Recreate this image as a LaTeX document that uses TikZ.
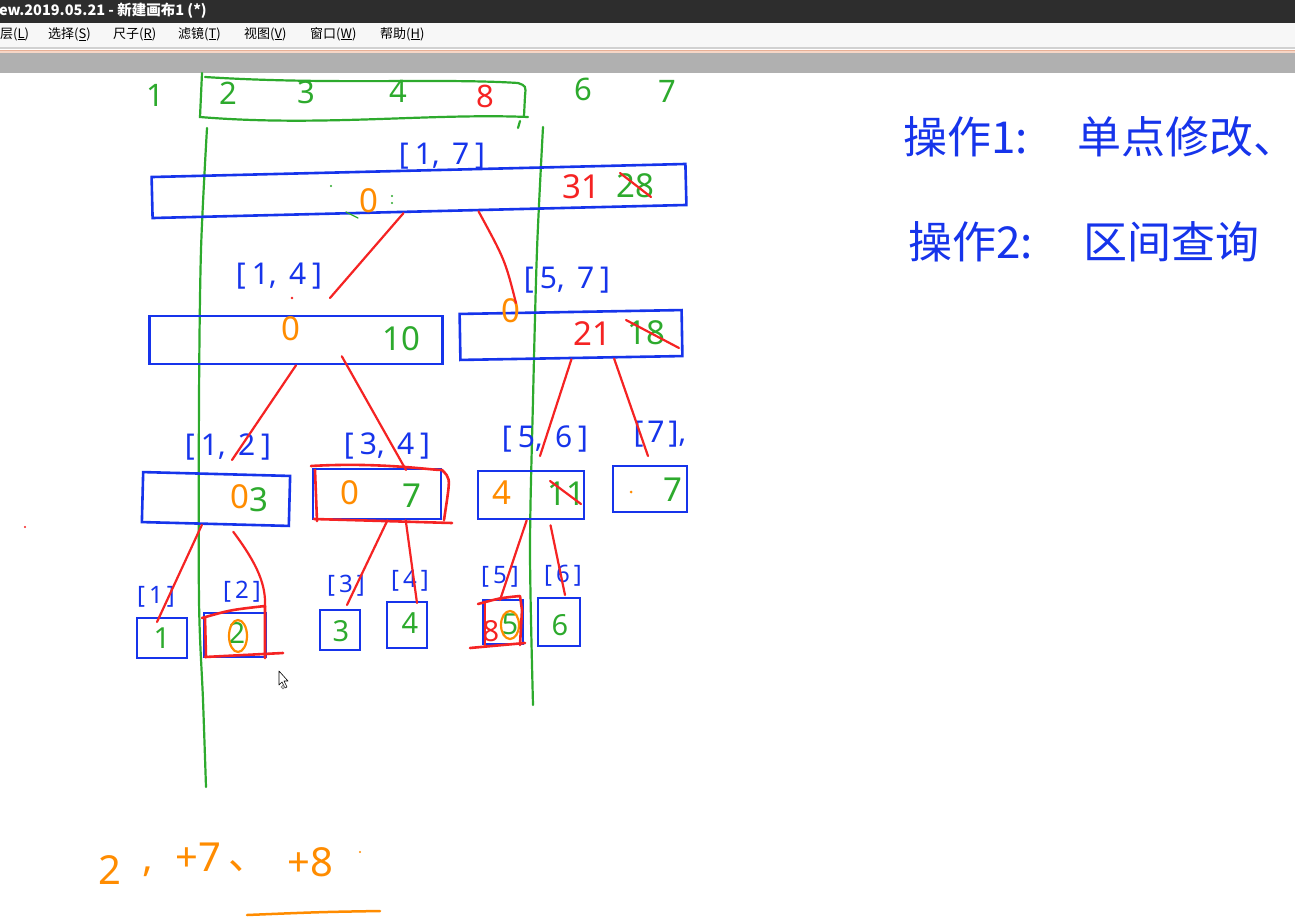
\documentclass[tikz,border=0pt]{standalone}
\usepackage{fontspec}
\setmainfont{Noto Sans}
\newfontfamily\cjk{Noto Sans CJK SC}
\usetikzlibrary{calc}
\definecolor{hblue}{RGB}{22,52,235}
\definecolor{hgreen}{RGB}{45,170,45}
\definecolor{hred}{RGB}{245,35,35}
\definecolor{horange}{RGB}{255,140,0}
\definecolor{titlebg}{RGB}{45,45,45}
\definecolor{menubg}{RGB}{247,247,247}
\definecolor{band}{RGB}{176,176,176}
\definecolor{peach}{RGB}{232,176,150}
\definecolor{peachlt}{RGB}{246,214,198}
\newcommand\iv[2]{[\kern6pt#1,\kern12pt#2\kern6pt]}
\newcommand\lv[1]{[\kern4pt#1\kern4pt]}
\begin{document}
\begin{tikzpicture}[x=1pt,y=-1pt,
  bx/.style={draw=hblue, line width=2.6pt, inner sep=0pt, rectangle},
  rbx/.style={draw=hred, line width=2.6pt, line cap=round, line join=round},
  lab/.style={text=hblue, font=\fontsize{30}{30}\selectfont, inner sep=0pt},
  slab/.style={text=hblue, font=\fontsize{24}{24}\selectfont, inner sep=0pt},
  val/.style={font=\fontsize{33}{33}\selectfont, inner sep=0pt},
  sval/.style={font=\fontsize{29}{29}\selectfont, inner sep=0pt},
  edge/.style={draw=hred, line width=2.2pt, line cap=round},
  grn/.style={draw=hgreen, line width=2.2pt, line cap=round},
  strike/.style={draw=hred, line width=2.2pt, line cap=round},
  menu/.style={anchor=west, inner sep=0pt, text=black, font=\cjk\fontsize{13}{13}\selectfont},
  cjkhw/.style={anchor=west, inner sep=0pt, text=hblue, font=\cjk\fontsize{44}{44}\selectfont},
  orn/.style={text=horange, inner sep=0pt, font=\fontsize{40}{40}\selectfont}]
\useasboundingbox (0,0) rectangle (1295,918);
\fill[white] (0,0) rectangle (1295,918);
% window chrome
\fill[titlebg] (0,0) rectangle (1295,23);
\fill[menubg] (0,23) rectangle (1295,47);
\fill[black!18] (0,47) rectangle (1295,48.5);
\fill[peach] (0,49.5) rectangle (1295,51);
\fill[peachlt] (0,51) rectangle (1295,53);
\fill[band] (0,53) rectangle (1295,73);
\node[anchor=west, inner sep=0pt, text=white, font=\cjk\fontsize{14.5}{14.5}\selectfont\bfseries] (title) at (-1,11) {ew.2019.05.21 - 新建画布1 (*)};
\node[menu] (m1) at (0,34) {层(\underline{L})};
\node[menu] (m2) at (48,34) {选择(\underline{S})};
\node[menu] (m3) at (113,34) {尺子(\underline{R})};
\node[menu] (m4) at (178,34) {滤镜(\underline{T})};
\node[menu] (m5) at (244,34) {视图(\underline{V})};
\node[menu] (m6) at (310,34) {窗口(\underline{W})};
\node[menu] (m7) at (380,34) {帮助(\underline{H})};

% green array on top
\begin{scope}[text=hgreen, font=\fontsize{31}{31}\selectfont, inner sep=0pt]
\node (a1) at (155,95) {1};
\node (a2) at (228,93) {2};
\node (a3) at (306,92) {3};
\node (a4) at (398,91) {4};
\node[text=hred] (a5) at (485,96) {8};
\node (a6) at (583,89) {6};
\node (a7) at (667,91) {7};
\end{scope}
\draw[grn] (202,73) -- (200,117) .. controls (320,127) and (430,113) .. (528,117);
\draw[grn] (205,77) .. controls (330,85) and (440,78) .. (518,83) .. controls (526,86) .. (525,96) -- (524,116);
\draw[grn] (520,121) -- (518,128);
\draw[grn] plot[smooth] coordinates {(207,128) (201,250) (199,400) (199,600) (203,700) (206,787)};
\draw[grn] plot[smooth] coordinates {(543,127) (537,250) (533,400) (530,550) (533,705)};

% boxes
\node[bx, minimum width=534pt, minimum height=41pt, rotate=1.4] (root) at (419,191) {};
\node[bx, minimum width=293pt, minimum height=48pt] (n14) at (296,340) {};
\node[bx, minimum width=222pt, minimum height=46pt, rotate=1] (n57) at (571,335) {};
\node[bx, minimum width=147pt, minimum height=50pt, rotate=-1.5] (n12) at (216,499) {};
\node[bx, minimum width=128pt, minimum height=50pt] (n34) at (377,494) {};
\node[bx, minimum width=106pt, minimum height=48pt] (n56) at (531,495) {};
\node[bx, minimum width=74pt, minimum height=46pt] (n7) at (650,489) {};
\node[bx, minimum width=50pt, minimum height=40pt] (l1) at (162,638) {};
\node[bx, minimum width=62pt, minimum height=44pt] (l2) at (235,635) {};
\node[bx, minimum width=40pt, minimum height=40pt] (l3) at (340,630) {};
\node[bx, minimum width=40pt, minimum height=46pt] (l4) at (407,625) {};
\node[bx, minimum width=40pt, minimum height=44pt] (l5) at (503,622) {};
\node[bx, minimum width=42pt, minimum height=48pt] (l6) at (559,622) {};

% interval labels
\node[lab] (t17) at (442,156) {\iv{1}{7}};
\node[lab] (t14) at (279,276) {\iv{1}{4}};
\node[lab] (t57) at (567,280) {\iv{5}{7}};
\node[lab] (t12) at (228,447) {\iv{1}{2}};
\node[lab] (t34) at (387,446) {\iv{3}{4}};
\node[lab] (t56) at (545,439) {\iv{5}{6}};
\node[lab] (t7) at (660,434) {\lv{7},};
\node[slab] (u1) at (156,597) {\lv{1}};
\node[slab] (u2) at (242,592) {\lv{2}};
\node[slab] (u3) at (346,586) {\lv{3}};
\node[slab] (u4) at (410,581) {\lv{4}};
\node[slab] (u5) at (500,577) {\lv{5}};
\node[slab] (u6) at (563,576) {\lv{6}};

% values
\node[val, text=horange] (v0) at (369,201) {0};
\node[val, text=hred] (v31) at (581,187) {31};
\node[val, text=hgreen] (v28) at (635,186) {28};
\draw[strike] (620,173) -- (651,197);
\node[val, text=horange] (v14) at (291,329) {0};
\node[val, text=hgreen] (v10) at (401,339) {10};
\node[val, text=horange] (v57a) at (511,311) {0};
\node[val, text=hred] (v21) at (592,334) {21};
\node[val, text=hgreen] (v18) at (646,333) {18};
\draw[strike] (626,320) -- (679,348);
\node[val, text=horange] (v12a) at (240,497) {0};
\node[val, text=hgreen] (v12b) at (259,500) {3};
\node[val, text=horange] (v34a) at (350,493) {0};
\node[val, text=hgreen] (v34b) at (412,496) {7};
\node[val, text=horange] (v56a) at (502,493) {4};
\node[val, text=hgreen] (v56b) at (566,494) {11};
\draw[strike] (550,481) -- (581,504);
\node[val, text=hgreen] (v7) at (673,490) {7};
\fill[horange] (631,492) circle (1.5);
\node[sval, text=hgreen] (w1) at (162,638) {1};
\node[sval, text=hgreen] (w2) at (237,633) {2};
\draw[horange, line width=2.2pt] (238,636) ellipse (9 and 16);
\node[sval, text=hgreen] (w3) at (341,631) {3};
\node[sval, text=hgreen] (w4) at (410,623) {4};
\node[sval, text=hgreen] (w5) at (510,624) {5};
\node[sval, text=hred] (w5r) at (491,631) {8};
\draw[horange, line width=2.2pt] (510,625) ellipse (9 and 14);
\node[sval, text=hgreen] (w6) at (560,625) {6};

% red overlays
\draw[rbx] (311,466) .. controls (380,462) and (430,470) .. (442,470) .. controls (450,478) .. (447,500) -- (444,520);
\draw[rbx] (315,470) -- (317,521);
\draw[rbx] (314,519) -- (452,523);
\draw[rbx] (202,618) .. controls (230,610) .. (265,606) -- (265,658);
\draw[rbx] (205,618) -- (206,657);
\draw[rbx] (205,657) -- (283,653);
\draw[rbx] (478,604) .. controls (500,598) .. (520,596) -- (522,610) -- (520,645);
\draw[rbx] (485,603) -- (485,645);
\draw[rbx] (470,648) -- (525,643);

% red tree connectors
\coordinate (e1) at (330,298);
\coordinate (e2) at (516,303);
\coordinate (e3) at (232,460);
\coordinate (e4) at (406,470);
\coordinate (e5) at (540,456);
\coordinate (e6) at (648,456);
\coordinate (e7) at (157,622);
\coordinate (e8) at (265,607);
\coordinate (e9) at (347,605);
\coordinate (e10) at (417,603);
\coordinate (e11) at (500,600);
\coordinate (e12) at (565,595);
\draw[edge] ($(root.south west)!0.47!(root.south east)$) -- (e1);
\draw[edge] ($(root.south west)!0.61!(root.south east)$) .. controls (505,260) .. (e2);
\draw[edge] ($(n14.south west)!0.5!(n14.south east)$) -- (e3);
\draw[edge] ($(n14.south west)!0.655!(n14.south east)+(0,-9)$) -- (e4);
\draw[edge] ($(n57.south west)!0.5!(n57.south east)$) -- (e5);
\draw[edge] ($(n57.south west)!0.69!(n57.south east)$) -- (e6);
\draw[edge] ($(n12.south west)!0.41!(n12.south east)$) -- (e7);
\draw[edge] ($(n12.south west)!0.62!(n12.south east)+(0,6)$) .. controls (258,565) and (266,585) .. (e8);
\draw[edge] ($(n34.south west)!0.58!(n34.south east)$) -- (e9);
\draw[edge] ($(n34.south west)!0.72!(n34.south east)$) -- (e10);
\draw[edge] ($(n56.south west)!0.46!(n56.south east)$) -- (e11);
\draw[edge] ($(n56.south west)!0.68!(n56.south east)+(0,5)$) -- (e12);

% small marks
\fill[hgreen] (331,186) circle (1.2);
\draw[grn, line width=1.2pt] (346,212) -- (358,218);
\fill[hgreen] (392,196) circle (1.2);
\fill[hgreen] (392,203) circle (1.2);
\fill[hred] (292,298) circle (1.3);
\fill[hred] (25,527) circle (1.2);

% cursor
\draw[black, fill=white, line width=0.6pt, line join=round] (279,671) -- (279,685) -- (282,682) -- (285,688) -- (287,687) -- (284,681) -- (288,681) -- cycle;
\draw[gray, line width=0.8pt] (283,687) circle (1.8);

% notes on the right
\node[cjkhw] (op1a) at (903,137) {操作1:};
\node[cjkhw] (op1b) at (1077,137) {单点修改、};
\node[cjkhw] (op2a) at (908,242) {操作2:};
\node[cjkhw] (op2b) at (1083,242) {区间查询};

% orange note at bottom
\node[orn] (o1) at (110,870) {2};
\node[orn] (o2) at (148,872) {,};
\node[orn] (o3) at (198,857) {+7};
\node[orn, font=\cjk\fontsize{40}{40}\selectfont] (o4) at (248,866) {、};
\node[orn] (o5) at (310,862) {+8};
\fill[horange] (360,852) circle (1.2);
\draw[horange, line width=2.5pt, line cap=round] (247,915) .. controls (320,912) .. (380,911);
\end{tikzpicture}
\end{document}
